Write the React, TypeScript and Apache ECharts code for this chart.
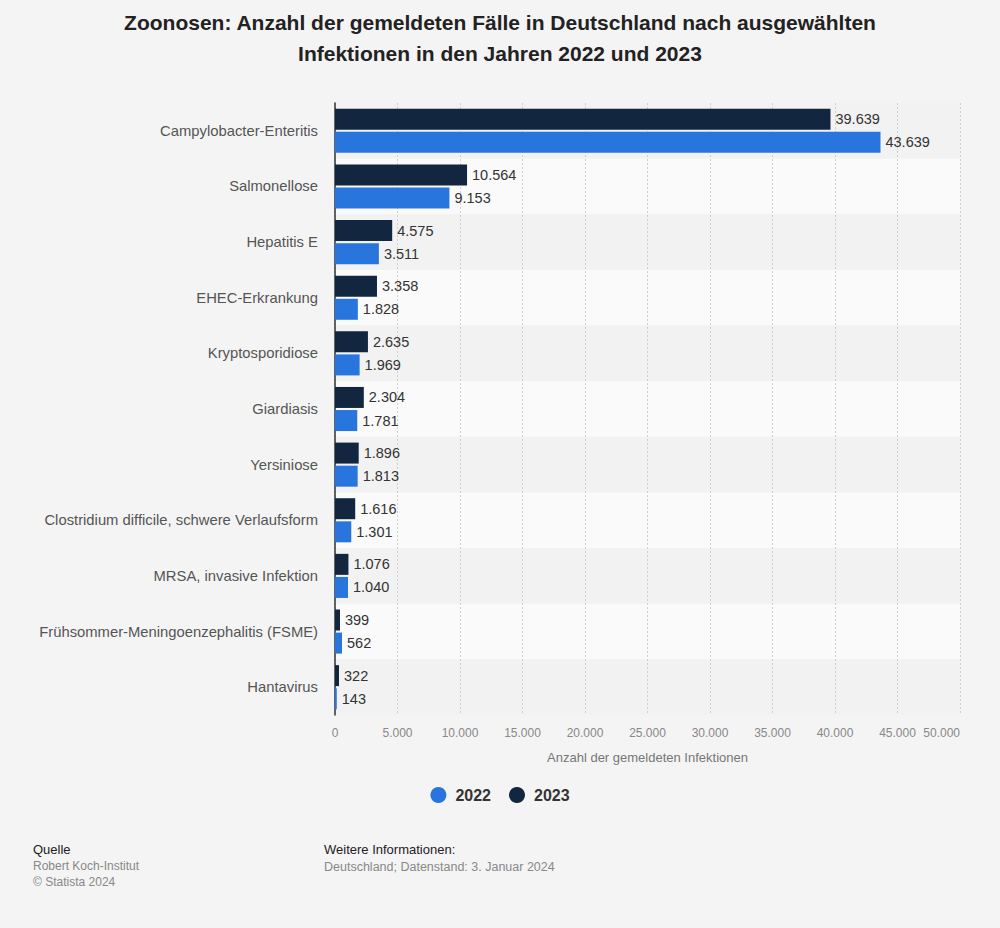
import React, { useEffect, useRef } from "react";
import * as echarts from "echarts";

const categories = [
  "Campylobacter-Enteritis",
  "Salmonellose",
  "Hepatitis E",
  "EHEC-Erkrankung",
  "Kryptosporidiose",
  "Giardiasis",
  "Yersiniose",
  "Clostridium difficile, schwere Verlaufsform",
  "MRSA, invasive Infektion",
  "Frühsommer-Meningoenzephalitis (FSME)",
  "Hantavirus",
];
const values2023 = [39639, 10564, 4575, 3358, 2635, 2304, 1896, 1616, 1076, 399, 322];
const values2022 = [43639, 9153, 3511, 1828, 1969, 1781, 1813, 1301, 1040, 562, 143];
const seriesNames = ["2022", "2023"];

const fmt = (v: number) => String(Math.round(v)).replace(/\B(?=(\d{3})+(?!\d))/g, ".");

const FONT = "'Liberation Sans', Arial, Helvetica, sans-serif";

export default function App() {
  const ref = useRef<HTMLDivElement>(null);
  useEffect(() => {
    if (!ref.current) return;
    const chart = echarts.init(ref.current, null, { renderer: "svg" });
    const labelCfg = {
      show: true,
      position: "right",
      distance: 5,
      color: "#333",
      fontSize: 14.5,
      fontFamily: FONT,
      formatter: (p: any) => fmt(p.value),
    };
    chart.setOption({
      animation: false,
      backgroundColor: "#f4f4f4",
      textStyle: { fontFamily: FONT },
      title: {
        text: "Zoonosen: Anzahl der gemeldeten Fälle in Deutschland nach ausgewählten\nInfektionen in den Jahren 2022 und 2023",
        left: "center",
        top: 2,
        textStyle: { fontSize: 21, fontWeight: "bold", color: "#222", lineHeight: 31, fontFamily: FONT },
      },
      grid: { left: 335, right: 40, top: 103, bottom: 213, containLabel: false },
      legend: {
        data: seriesNames,
        left: "center",
        top: 782,
        icon: "circle",
        itemWidth: 16,
        itemHeight: 16,
        itemGap: 18,
        textStyle: { fontSize: 16, fontWeight: "bold", color: "#333", fontFamily: FONT, padding: [0, 0, 0, 4] },
      },
      xAxis: {
        type: "value",
        min: 0,
        max: 50000,
        interval: 5000,
        axisLine: { show: false },
        axisTick: { show: false },
        splitLine: { show: true, lineStyle: { color: "#cfcfcf", type: [2, 2], width: 1 } },
        axisLabel: {
          color: "#888",
          fontSize: 12,
          margin: 12,
          fontFamily: FONT,
          alignMaxLabel: "right",
          formatter: (v: number) => fmt(v),
        },
        name: "Anzahl der gemeldeten Infektionen",
        nameLocation: "middle",
        nameGap: 36,
        nameTextStyle: { color: "#777", fontSize: 13, fontFamily: FONT },
      },
      yAxis: {
        type: "category",
        inverse: true,
        data: categories,
        axisLine: { show: true, lineStyle: { color: "#333", width: 1.5 } },
        axisTick: { show: false },
        axisLabel: { color: "#555", fontSize: 14.8, margin: 17, fontFamily: FONT },
        splitArea: { show: true, areaStyle: { color: ["#f2f2f2", "#fafafa"] } },
      },
      series: [
        {
          name: "2023",
          type: "bar",
          data: values2023,
          barWidth: 21,
          barGap: "10%",
          itemStyle: { color: "#12263f" },
          label: labelCfg,
        },
        {
          name: "2022",
          type: "bar",
          data: values2022,
          barWidth: 21,
          barGap: "10%",
          itemStyle: { color: "#2876dd" },
          label: labelCfg,
        },
      ],
      graphic: [
        { type: "text", left: 33, top: 843, style: { text: "Quelle", fontSize: 13, fill: "#222", fontFamily: FONT } },
        { type: "text", left: 33, top: 860, style: { text: "Robert Koch-Institut", fontSize: 12, fill: "#888", fontFamily: FONT } },
        { type: "text", left: 33, top: 876, style: { text: "© Statista 2024", fontSize: 12, fill: "#888", fontFamily: FONT } },
        { type: "text", left: 324, top: 843, style: { text: "Weitere Informationen:", fontSize: 13, fill: "#222", fontFamily: FONT } },
        { type: "text", left: 324, top: 860, style: { text: "Deutschland; Datenstand: 3. Januar 2024", fontSize: 12.5, fill: "#888", fontFamily: FONT } },
      ],
    });
    return () => chart.dispose();
  }, []);
  return (
    <div
      ref={ref}
      style={{ position: "fixed", left: 0, top: 0, width: 1000, height: 928, background: "#f4f4f4" }}
    />
  );
}
